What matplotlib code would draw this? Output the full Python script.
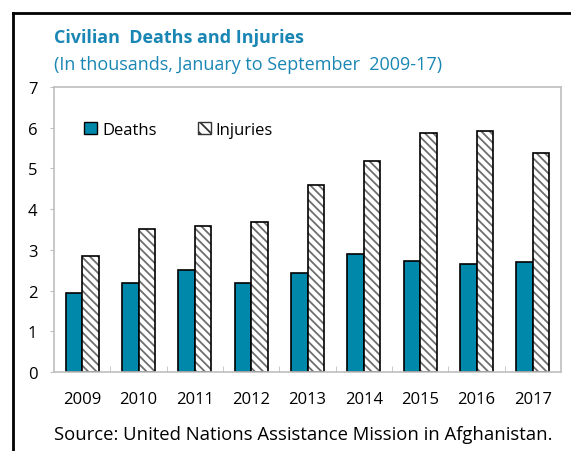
import numpy as np
import matplotlib.pyplot as plt
from matplotlib.lines import Line2D
from matplotlib.patches import Patch

years = ["2009", "2010", "2011", "2012", "2013", "2014", "2015", "2016", "2017"]
deaths = [1.93, 2.19, 2.51, 2.19, 2.44, 2.89, 2.73, 2.65, 2.69]
injuries = [2.85, 3.51, 3.59, 3.68, 4.59, 5.18, 5.86, 5.93, 5.39]

W, H = 571, 452
plt.rcParams['font.family'] = ['Open Sans', 'DejaVu Sans']
plt.rcParams['hatch.linewidth'] = 1.3

fig = plt.figure(figsize=(W / 100, H / 100), dpi=100)
ax = fig.add_axes([54 / W, 1 - 373 / H, (561 - 54) / W, (373 - 88) / H])

x = np.arange(len(years))
bw = 0.295
teal = "#0088ab"
hatch_gray = "#6e6e6e"
ax.bar(x - bw / 2, deaths, bw, color=teal, edgecolor="black", linewidth=1.2)
# hatched fill in gray, then a black outline on top
ax.bar(x + bw / 2, injuries, bw, color="white", edgecolor=hatch_gray, linewidth=0,
       hatch="\\\\\\\\")
ax.bar(x + bw / 2, injuries, bw, facecolor="none", edgecolor="black", linewidth=1.2)

ax.set_xlim(-0.5, len(years) - 0.5)
ax.set_ylim(0, 7)
ax.set_yticks(range(8))
ax.set_xticks(x)
ax.set_xticklabels(years)
ax.set_xticks(np.arange(0.5, len(years) - 1, 1), minor=True)
ax.tick_params(axis="x", which="major", length=0, pad=14, labelsize=12)
ax.tick_params(axis="x", which="minor", direction="in", length=4, color="#bfbfbf")
ax.tick_params(axis="y", length=3, color="#bfbfbf", pad=9, labelsize=12)
for s in ax.spines.values():
    s.set_color("#bfbfbf")
    s.set_linewidth(1.2)

handles = [Patch(facecolor=teal, edgecolor="black", label="Deaths"),
           Patch(facecolor="white", edgecolor="#333333", hatch="\\\\\\", label="Injuries")]
ax.legend(handles=handles, loc="center left", bbox_to_anchor=(0.06, 1 - (131 - 88) / 285),
          ncol=2, frameon=False, fontsize=12, handlelength=0.75, handleheight=0.75,
          handletextpad=0.3, columnspacing=2.5, borderaxespad=0, borderpad=0)

blue = "#1a86b3"
fig.text(54 / W, 1 - 38 / H, "Civilian  Deaths and Injuries", color=blue,
         fontsize=13, fontweight="bold", va="center", ha="left")
fig.text(54 / W, 1 - 65 / H, "(In thousands, January to September  2009-17)", color=blue,
         fontsize=13, va="center", ha="left")
fig.text(54 / W, 1 - 435 / H, "Source: United Nations Assistance Mission in Afghanistan.",
         color="black", fontsize=13.3, va="center", ha="left")

# outer frame (left and top edges)
fig.add_artist(Line2D([12.7 / W, 12.7 / W], [0, 1 - 14 / H], color="black", lw=2,
                      transform=fig.transFigure))
fig.add_artist(Line2D([12.7 / W, 1], [1 - 14 / H, 1 - 14 / H], color="black", lw=2,
                      transform=fig.transFigure))

fig.savefig("out.png", dpi=100)
